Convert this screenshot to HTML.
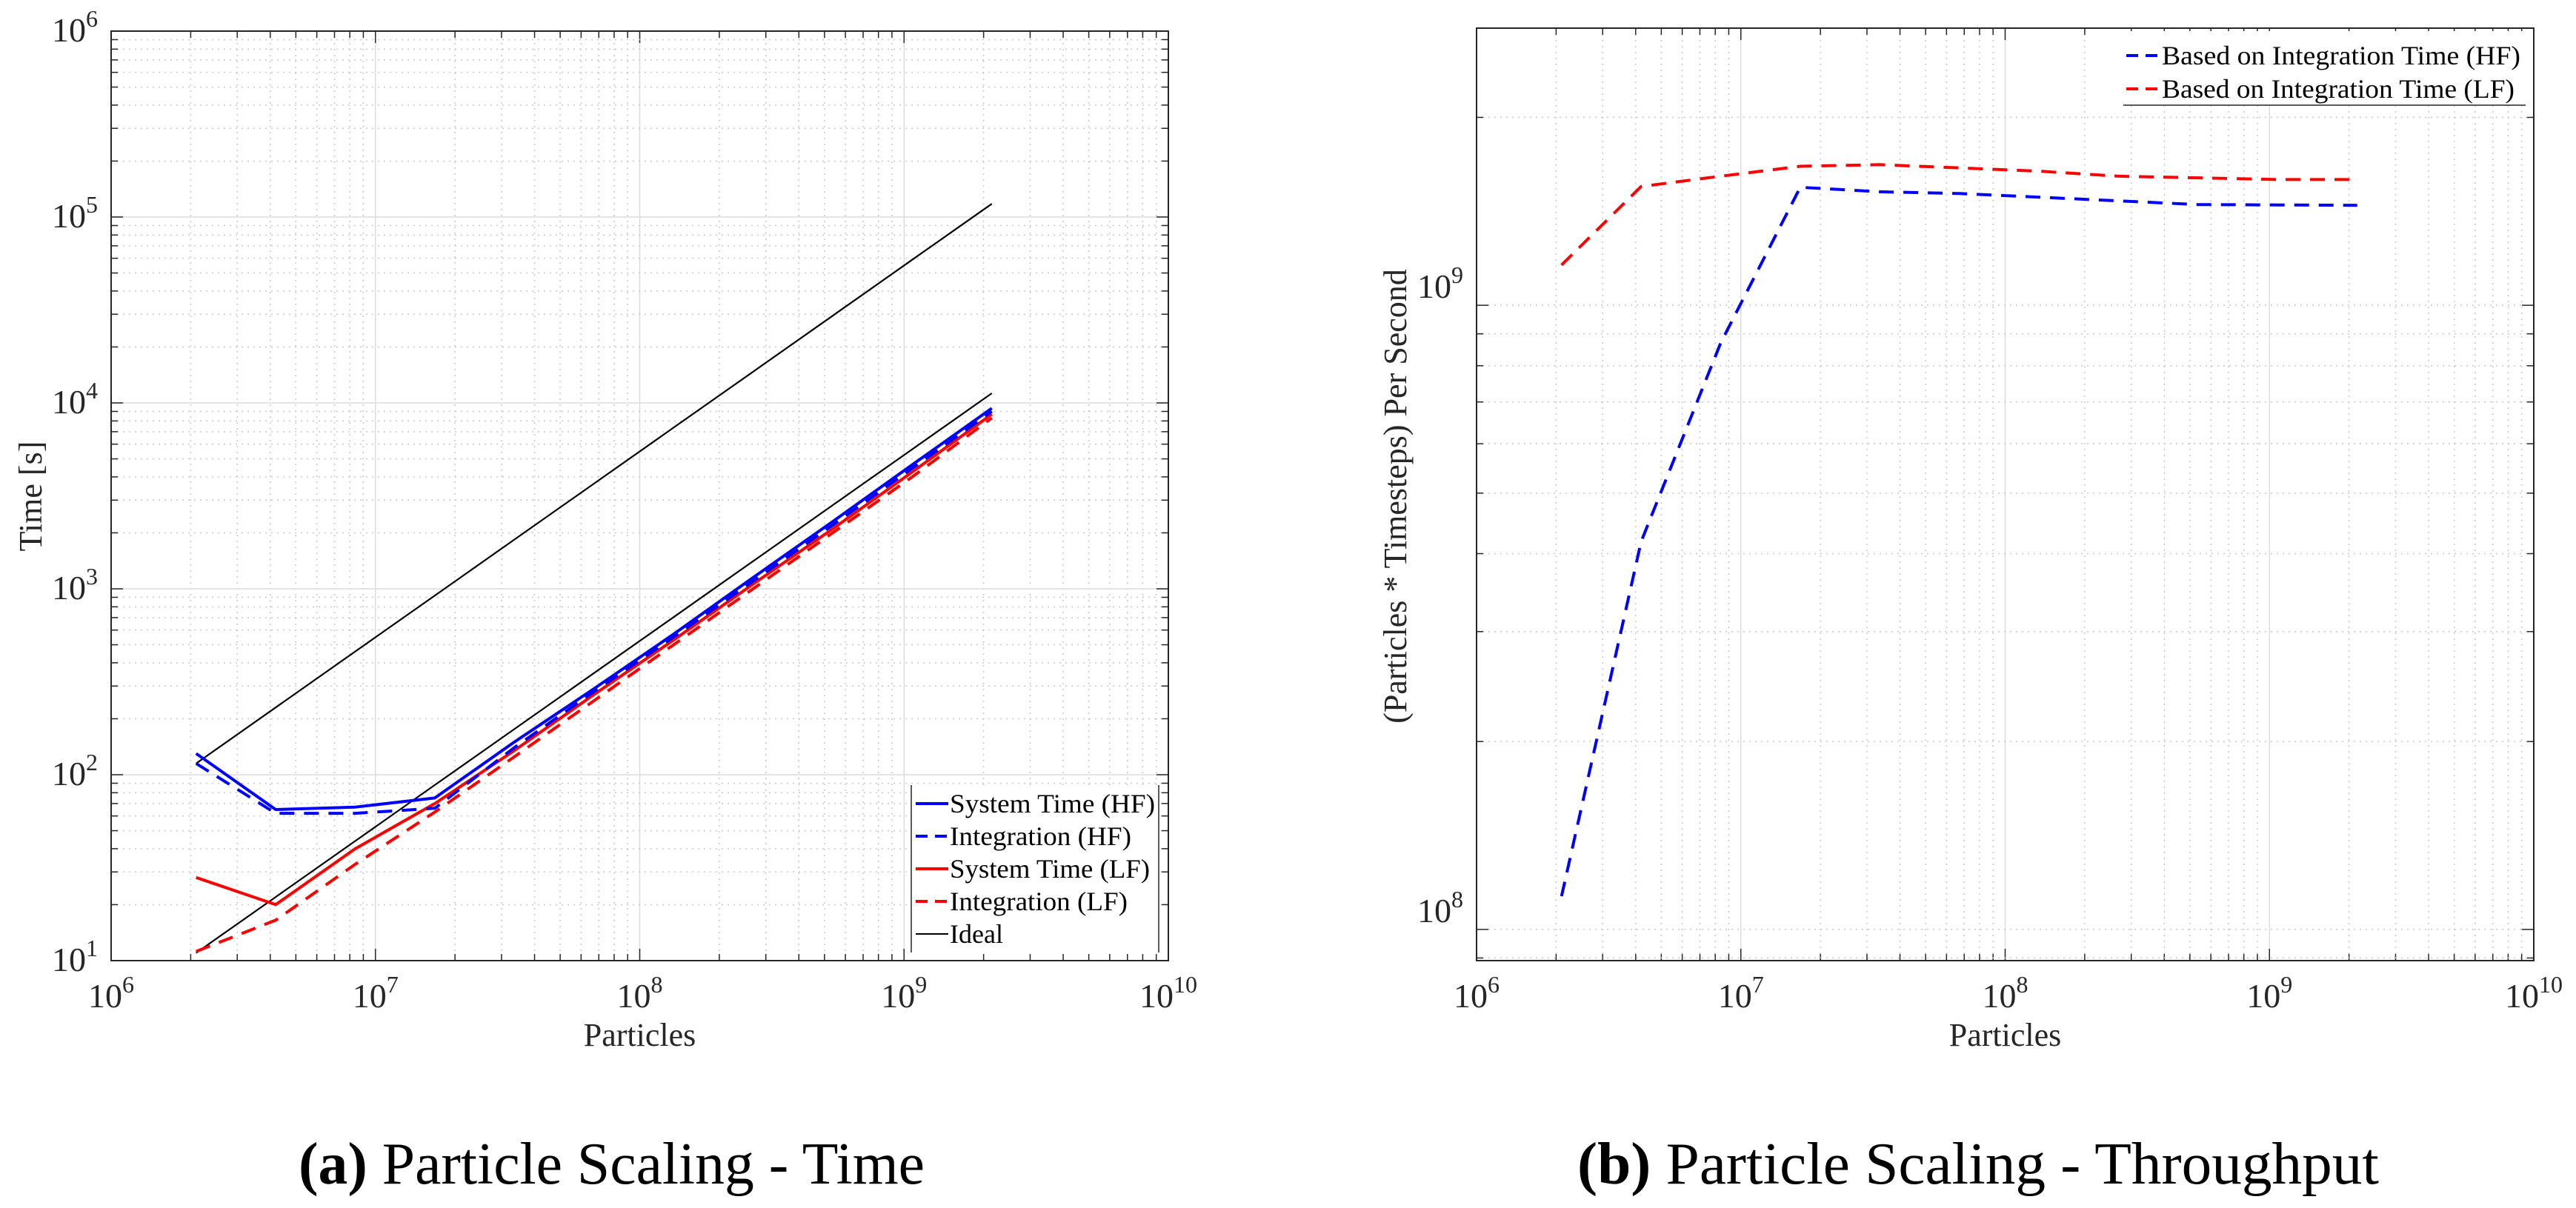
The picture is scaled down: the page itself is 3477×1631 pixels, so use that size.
<!DOCTYPE html>
<html><head><meta charset="utf-8"><style>
html,body{margin:0;padding:0;background:#fff;}
svg{display:block;font-family:"Liberation Serif",serif;}
</style></head><body>
<svg id="fig" width="3477" height="1631" viewBox="0 0 3477 1631" xmlns="http://www.w3.org/2000/svg">
<g id="chartA"></g>
<g id="chartB"></g>
<text x="403" y="1598" font-size="80" fill="#000" textLength="845" lengthAdjust="spacingAndGlyphs"><tspan font-weight="bold">(a)</tspan> Particle Scaling - Time</text>
<text x="2129" y="1598" font-size="80" fill="#000" textLength="1082" lengthAdjust="spacingAndGlyphs"><tspan font-weight="bold">(b)</tspan> Particle Scaling - Throughput</text>
</svg>
<script>
const particles = [2097152, 4194304, 8388608, 16777216, 33554432, 67108864, 134217728, 268435456, 536870912, 1073741824, 2147483648];
const sysHF = [130, 65, 67, 75, 150, 290, 570, 1150, 2300, 4650, 9350];
const intHF = [115, 62, 62, 66, 140, 280, 550, 1100, 2200, 4450, 9000];
const sysLF = [28, 20, 40, 70, 135, 270, 530, 1060, 2100, 4250, 8700];
const intLF = [11.2, 16.5, 33, 63, 125, 250, 500, 1000, 2000, 4000, 8300];
const idealHigh = [115, 230, 460, 920, 1840, 3680, 7360, 14720, 29440, 58880, 117760];
const idealLow = [11, 22, 44, 88, 176, 352, 704, 1408, 2816, 5632, 11264];
const thrHF = [1.13e8, 4.18e8, 8.7e8, 1.545e9, 1.52e9, 1.51e9, 1.49e9, 1.47e9, 1.45e9, 1.448e9, 1.446e9];
const thrLF = [1.16e9, 1.55e9, 1.61e9, 1.67e9, 1.68e9, 1.66e9, 1.64e9, 1.61e9, 1.60e9, 1.59e9, 1.59e9];
const xTickExps = [6, 7, 8, 9, 10];
const yTickExpsA = [1, 2, 3, 4, 5, 6];
const yTickExpsB = [8, 9];
const legendA = ["System Time (HF)", "Integration (HF)", "System Time (LF)", "Integration (LF)", "Ideal"];
const legendB = ["Based on Integration Time (HF)", "Based on Integration Time (LF)"];

const NS = "http://www.w3.org/2000/svg";
function mk(parent, tag, attrs, text) {
  const e = document.createElementNS(NS, tag);
  for (const k in attrs) e.setAttribute(k, attrs[k]);
  if (text !== undefined) e.textContent = text;
  parent.appendChild(e);
  return e;
}
function logScale(d0, d1, r0, r1) {
  return v => r0 + (Math.log10(v) - d0) / (d1 - d0) * (r1 - r0);
}
function powLabel(g, x, y, exp, anchor, name) {
  const t = mk(g, "text", {x: x, y: y, "font-size": 46, fill: "#262626", "text-anchor": anchor});
  
  
  mk(t, "tspan", {}, "10");
  mk(t, "tspan", {dy: -20, "font-size": 32}, String(exp));
  return t;
}
function drawAxes(g, L, R, T, B, X, Y, xd, yd, majorGridY, prefix) {
  for (let e = xd[0]; e < xd[1]; e++) {
    for (let m = 1; m <= 9; m++) {
      const v = m * Math.pow(10, e), x = X(v);
      if (m === 1) {
        const l = mk(g, "line", {x1: x, x2: x, y1: T, y2: B, stroke: "#dcdcdc", "stroke-width": 1.5});
        
        
      } else {
        const l = mk(g, "line", {x1: x, x2: x, y1: T, y2: B, stroke: "#c8c8c8", "stroke-width": 1.5, "stroke-dasharray": "2 6"});
        
        
      }
      const len = m === 1 ? 16 : 9;
      mk(g, "line", {x1: x, x2: x, y1: B, y2: B - len, stroke: "#262626", "stroke-width": 1.5});
      mk(g, "line", {x1: x, x2: x, y1: T, y2: T + len, stroke: "#262626", "stroke-width": 1.5});
    }
  }
  for (let e = Math.floor(yd[0]); e < Math.ceil(yd[1]); e++) {
    for (let m = 1; m <= 9; m++) {
      const v = m * Math.pow(10, e);
      const lv = Math.log10(v);
      if (lv < yd[0] - 1e-9 || lv > yd[1] + 1e-9) continue;
      const y = Y(v);
      if (m === 1 && majorGridY) {
        const l = mk(g, "line", {x1: L, x2: R, y1: y, y2: y, stroke: "#dcdcdc", "stroke-width": 1.5});
        
        
      } else {
        const l = mk(g, "line", {x1: L, x2: R, y1: y, y2: y, stroke: "#c8c8c8", "stroke-width": 1.5, "stroke-dasharray": "2 6"});
        
        
      }
      const len = m === 1 ? 16 : 9;
      mk(g, "line", {x1: L, x2: L + len, y1: y, y2: y, stroke: "#262626", "stroke-width": 1.5});
      mk(g, "line", {x1: R, x2: R - len, y1: y, y2: y, stroke: "#262626", "stroke-width": 1.5});
    }
  }
  const box = mk(g, "rect", {x: L, y: T, width: R - L, height: B - T, fill: "none", stroke: "#262626", "stroke-width": 2});
  
  
}
function series(g, xs, ys, X, Y, color, width, dash, name) {
  const pts = xs.map((v, i) => X(v).toFixed(1) + "," + Y(ys[i]).toFixed(1)).join(" ");
  const p = mk(g, "polyline", {points: pts, fill: "none", stroke: color, "stroke-width": width, "stroke-linejoin": "round"});
  if (dash) p.setAttribute("stroke-dasharray", dash);
  
  
}

(function(){
  const g = document.getElementById("chartA");
  const L = 150, R = 1577, T = 42, B = 1297;
  const X = logScale(6, 10, L, R), Y = logScale(1, 6, B, T);
  drawAxes(g, L, R, T, B, X, Y, [6, 10], [1, 6], true, "time");
  xTickExps.forEach(e => powLabel(g, X(Math.pow(10, e)), 1360, e, "middle", "x-tick-label"));
  yTickExpsA.forEach(e => powLabel(g, 132, Y(Math.pow(10, e)) + 14, e, "end", "y-tick-label"));
  const xt = mk(g, "text", {x: (L + R) / 2, y: 1412, "font-size": 44, fill: "#262626", "text-anchor": "middle"}, "Particles");
  
  
  const yt = mk(g, "text", {x: 0, y: 0, "font-size": 44, fill: "#262626", "text-anchor": "middle", transform: "translate(56,670) rotate(-90)"}, "Time [s]");
  
  
  series(g, particles, idealHigh, X, Y, "#000", 2.2, null, "ideal-line-high");
  series(g, particles, idealLow, X, Y, "#000", 2.2, null, "ideal-line-low");
  series(g, particles, intLF, X, Y, "#ff0000", 4, "20 13", "integration-lf-line");
  series(g, particles, sysLF, X, Y, "#ff0000", 4, null, "system-time-lf-line");
  series(g, particles, intHF, X, Y, "#0000ff", 4, "20 13", "integration-hf-line");
  series(g, particles, sysHF, X, Y, "#0000ff", 4, null, "system-time-hf-line");
  const lg = mk(g, "g", {});
  
  
  mk(lg, "rect", {x: 1230, y: 1060, width: 334, height: 226, fill: "#fff", stroke: "none"});
  mk(lg, "line", {x1: 1230, x2: 1230, y1: 1060, y2: 1286, stroke: "#262626", "stroke-width": 1.5});
  mk(lg, "line", {x1: 1564, x2: 1564, y1: 1060, y2: 1286, stroke: "#262626", "stroke-width": 1.5});
  const styles = [["#0000ff", 4, null], ["#0000ff", 4, "16 10"], ["#ff0000", 4, null], ["#ff0000", 4, "16 10"], ["#000", 2, null]];
  const widths = [277, 245, 270, 240, 72];
  legendA.forEach((s, i) => {
    const y = 1085 + i * 44;
    const ln = mk(lg, "line", {x1: 1236, x2: 1280, y1: y, y2: y, stroke: styles[i][0], "stroke-width": styles[i][1]});
    if (styles[i][2]) ln.setAttribute("stroke-dasharray", styles[i][2]);
    
    
    const t = mk(lg, "text", {x: 1282, y: y + 12, "font-size": 36, fill: "#000"}, s);
    t.setAttribute("textLength", widths[i]);
    t.setAttribute("lengthAdjust", "spacingAndGlyphs");
    
    
  });
})();

(function(){
  const g = document.getElementById("chartB");
  const L = 1993, R = 3420, T = 38, B = 1297;
  const yTop = 9.444, yBot = 7.950;
  const X = logScale(6, 10, L, R), Y = logScale(yBot, yTop, B, T);
  drawAxes(g, L, R, T, B, X, Y, [6, 10], [yBot, yTop], false, "throughput");
  xTickExps.forEach(e => powLabel(g, X(Math.pow(10, e)), 1360, e, "middle", "x-tick-label"));
  yTickExpsB.forEach(e => powLabel(g, 1975, Y(Math.pow(10, e)) - 10, e, "end", "y-tick-label"));
  const xt = mk(g, "text", {x: (L + R) / 2, y: 1412, "font-size": 44, fill: "#262626", "text-anchor": "middle"}, "Particles");
  
  
  const yt = mk(g, "text", {x: 0, y: 0, "font-size": 44, fill: "#262626", "text-anchor": "middle", transform: "translate(1898,670) rotate(-90)"}, "(Particles * Timesteps) Per Second");
  
  
  series(g, particles, thrLF, X, Y, "#ff0000", 4, "20 13", "throughput-lf-line");
  series(g, particles, thrHF, X, Y, "#0000ff", 4, "20 13", "throughput-hf-line");
  const lg = mk(g, "g", {});
  
  
  mk(lg, "rect", {x: 2866, y: 42, width: 543, height: 100, fill: "#fff", stroke: "none"});
  mk(lg, "line", {x1: 2866, x2: 3409, y1: 142, y2: 142, stroke: "#262626", "stroke-width": 1.5});
  const cols = ["#0000ff", "#ff0000"];
  legendB.forEach((s, i) => {
    const y = 75 + i * 45;
    const ln = mk(lg, "line", {x1: 2870, x2: 2916, y1: y, y2: y, stroke: cols[i], "stroke-width": 4, "stroke-dasharray": "16 10"});
    
    
    const t = mk(lg, "text", {x: 2918, y: y + 12, "font-size": 36, fill: "#000"}, s);
    t.setAttribute("textLength", i === 0 ? 484 : 476);
    t.setAttribute("lengthAdjust", "spacingAndGlyphs");
    
    
  });
})();
</script>
</body></html>
